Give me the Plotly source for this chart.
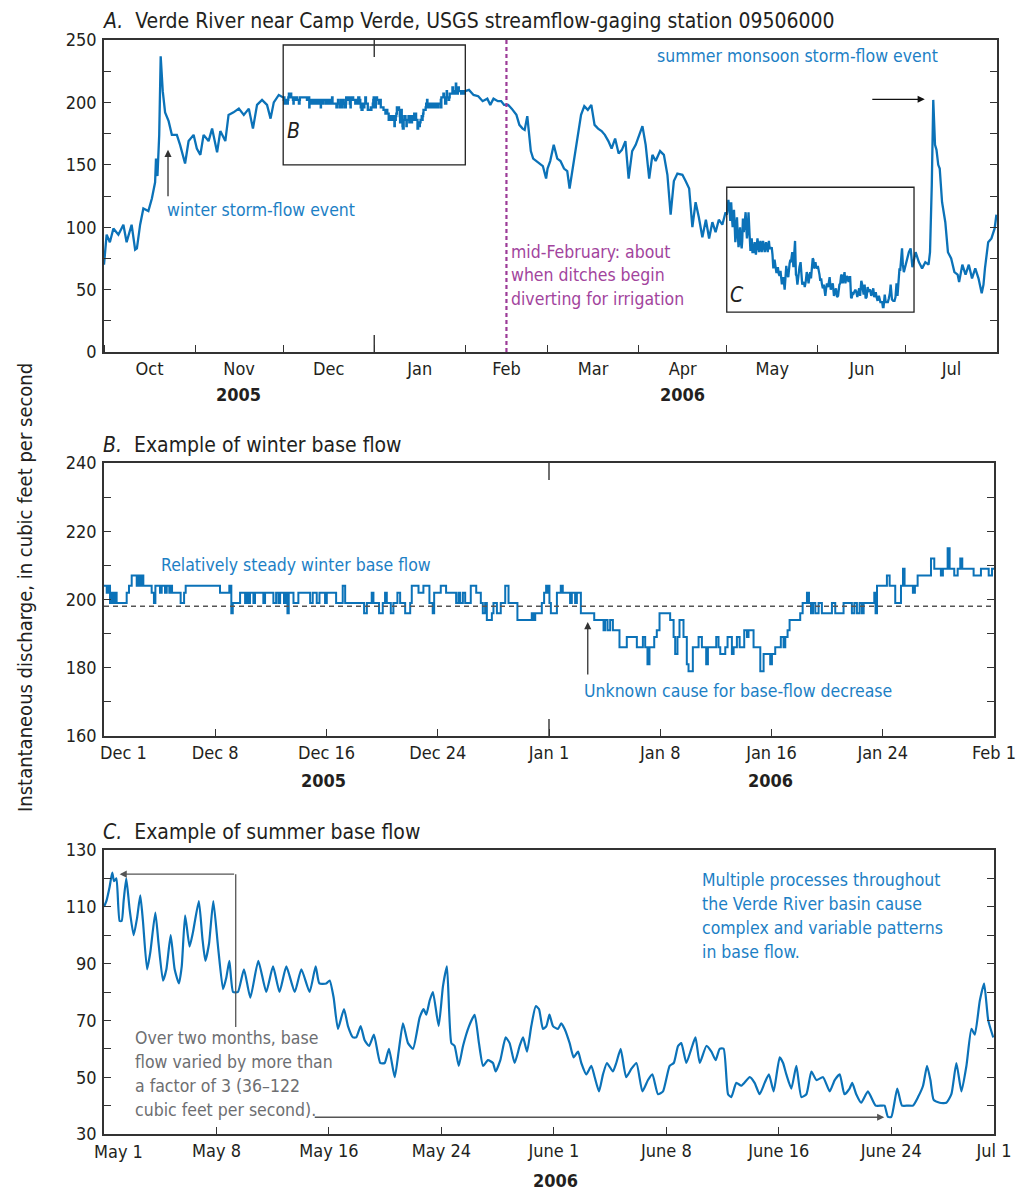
import pandas as pd
import plotly.graph_objects as go

# ---------------- data ----------------
# Panel A, early segment: days after 2005-10-01, discharge (cfs)
early_day = [0, 0.9, 2.0, 3.2, 4.9, 6.6, 7.7, 9.4, 10.6, 11.2, 12.3, 13.4, 15.1, 16.3, 17.4, 17.7, 18.2,
             18.8, 19.3, 20.0, 20.8, 22.0, 23.1, 24.8, 25.9, 27.6, 28.8, 30.5, 31.6, 32.8, 33.9, 35.6,
             36.8, 38.5, 39.6, 41.3, 42.4, 44.1, 45.9, 47.6, 49.3, 50.7, 52.1, 53.8, 55.5, 56.7, 57.8, 59.5]
early_cfs = [70, 94, 88, 99, 94, 102, 88, 102, 82, 83, 102, 115, 113, 123, 136, 155, 141,
             174, 237, 209, 192, 185, 174, 174, 166, 151, 169, 174, 163, 158, 174, 169,
             179, 160, 177, 169, 190, 192, 195, 190, 195, 179, 198, 202, 198, 187, 200, 206]

# Panel B (winter base flow): step changes, days after 2005-12-01
winter_day = [0, 0.19, 0.30, 0.42, 0.53, 0.65, 0.77, 0.88, 1.58, 1.74, 1.93, 2.28, 2.39, 2.51, 2.62, 2.74,
              3.32, 3.48, 3.58, 3.90, 4.02, 4.25, 4.37, 4.55, 4.67, 4.74, 5.34, 5.58, 5.69, 8.08, 8.73,
              8.87, 8.97, 9.48, 9.83, 9.94, 10.06, 10.17, 10.41, 10.52, 11.1, 11.22, 11.8, 11.99, 12.15,
              12.27, 12.54, 12.68, 12.78, 12.87, 13.2, 13.54, 14.36, 14.54, 14.82, 15.01, 15.4, 15.52,
              16.17, 16.63, 16.8, 18.12, 18.31, 18.65, 18.77, 19.16, 19.42, 19.58, 19.7, 19.98, 20.16,
              20.44, 20.63, 20.98, 21.33, 21.44, 21.91, 22.25, 22.67, 22.9, 23.0, 23.46, 23.83, 24.53,
              24.69, 24.81, 25.0, 25.16, 25.55, 25.93, 26.25, 26.39, 26.55, 26.67, 27.02, 27.13, 27.37,
              27.64, 27.95, 28.18, 28.8, 29.8, 29.92, 30.04, 30.5, 30.66, 30.8, 30.9, 30.96, 31.03,
              31.13, 31.55, 31.82, 31.96, 32.47, 32.59, 32.82, 32.94, 33.22, 34.15, 34.8, 34.91, 35.08,
              35.26, 35.45, 35.91, 36.42, 37.12, 37.54, 37.7, 37.86, 38.0, 38.33, 38.51, 38.7, 39.44,
              39.68, 39.79, 39.95, 40.09, 40.37, 40.6, 40.72, 41.02, 41.42, 41.65, 41.95, 42.07, 42.65,
              42.81, 42.93, 43.28, 43.44, 43.74, 43.86, 44.09, 44.28, 44.6, 44.79, 44.9, 45.25, 45.72,
              45.95, 46.41, 46.53, 46.76, 47.15, 47.34, 47.46, 47.62, 47.76, 48.5, 48.67, 48.97, 49.11,
              49.25, 49.39, 49.55, 49.78, 50.01, 50.71, 50.94, 51.52, 52.1, 52.27, 52.45, 52.64, 52.8,
              52.92, 53.66, 53.75, 53.85, 54.54, 54.73, 55.12, 55.52, 55.66, 55.77, 56.35, 56.49, 56.68,
              57.61, 57.84, 58.3, 58.44, 58.77, 58.91, 59.23, 59.47, 59.65, 59.79, 60.58, 61.09, 61.63,
              61.86, 62.0]
winter_cfs = [204, 202, 204, 199, 202, 199, 202, 199, 202, 204, 207, 204, 207, 204, 207, 204,
              202, 199, 204, 202, 204, 202, 204, 202, 204, 202, 199, 202, 204, 202, 204,
              196, 199, 202, 199, 202, 199, 202, 199, 202, 199, 202, 199, 202, 199,
              202, 199, 202, 196, 202, 199, 202, 199, 202, 199, 202, 199, 202,
              199, 204, 199, 196, 199, 202, 199, 196, 199, 202, 199, 196, 199,
              202, 199, 196, 199, 204, 202, 204, 199, 196, 202, 204, 202, 199,
              202, 199, 202, 199, 204, 202, 199, 196, 199, 194, 196, 199, 196,
              199, 204, 199, 194, 196, 194, 196, 199, 202, 204, 202, 204, 199,
              196, 202, 204, 202, 199, 202, 199, 202, 196, 194, 191, 194, 191,
              194, 191, 186, 189, 186, 189, 186, 181, 186, 189, 191, 196, 194,
              189, 184, 189, 194, 189, 181, 179, 186, 189, 186, 181, 186, 189,
              186, 184, 186, 189, 184, 186, 189, 186, 191, 189, 191, 186, 179,
              184, 181, 184, 186, 189, 186, 189, 191, 194, 196, 199, 202, 199,
              196, 199, 196, 199, 196, 199, 196, 199, 196, 199, 196, 199, 196,
              199, 202, 196, 204, 207, 204, 199, 204, 209, 204, 202, 204, 207,
              212, 209, 207, 209, 215, 209, 207, 209, 212, 209, 207, 209, 207,
              209, 209]
winter_reference_cfs = 198

# Panel A, February-April: days after 2006-02-01
spring_day = [1.25, 2.8, 4.4, 5.9, 7.5, 8.5, 9.6, 11.1, 12.2, 13.2, 14.6, 15.8, 17.4, 18.4, 19.5, 20.2,
              21.1, 21.6, 22.3, 23.1, 24.2, 25.2, 26.4, 27.5, 28.0, 28.9, 30.1, 31.3, 32.4, 33.6, 34.7,
              35.5, 36.2, 37.1, 38.2, 39.4, 40.5, 41.7, 42.9, 44.0, 45.2, 46.4, 47.5, 48.7, 49.8, 51.0,
              52.2, 53.3, 54.5, 55.6, 56.8, 58.0, 60.3, 61.4, 62.6, 63.7, 64.8, 66.3, 67.6, 68.8, 69.9,
              71.0, 72.2, 73.9, 75.0, 76.2, 77.3, 78.4, 79.5, 80.7, 81.9, 83.0, 84.1, 85.2, 86.3, 87.5, 88.6]
spring_cfs = [210, 206, 205, 201, 203, 198, 203, 201, 201, 198, 198, 195, 190, 182, 179, 178,
              189, 177, 161, 155, 153, 151, 149, 139, 147, 153, 166, 155, 153, 147, 145,
              131, 142, 155, 174, 190, 197, 194, 198, 182, 179, 177, 174, 169, 163, 171,
              159, 162, 169, 139, 161, 166, 181, 166, 139, 158, 153, 161, 158, 142, 110,
              137, 143, 142, 137, 131, 100, 120, 108, 92, 106, 91, 104, 96, 106, 102, 112]

# Panel C (summer base flow): days after 2006-05-01
summer_day = [0, 0.16, 0.38, 0.56, 0.68, 0.84, 1.06, 1.2, 1.33, 1.51, 1.74, 2.01, 2.24, 2.46, 2.64, 2.92,
              3.14, 3.48, 3.7, 4.0, 4.23, 4.52, 4.79, 5.08, 5.27, 5.5, 5.8, 6.03, 6.43, 6.67, 6.87, 7.12,
              7.41, 7.73, 8.07, 8.29, 8.5, 8.75, 9.08, 9.49, 9.92, 10.46, 11.0, 11.46, 11.9, 12.36, 12.93,
              13.38, 13.94, 14.35, 14.6, 15.07, 15.3, 15.57, 15.86, 16.27, 16.54, 16.88, 17.1, 17.4, 17.67,
              17.97, 18.3, 18.73, 19.03, 19.32, 19.71, 20.0, 20.27, 20.61, 20.95, 21.4, 21.67, 21.85, 22.08,
              22.3, 22.69, 22.98, 23.25, 23.55, 23.77, 24.05, 24.34, 24.75, 25.13, 25.42, 25.7, 26.03,
              26.37, 26.55, 26.87, 27.23, 27.5, 27.84, 28.18, 28.41, 28.68, 28.97, 29.27, 29.49, 29.76,
              29.99, 30.2, 30.44, 30.78, 31.0, 31.23, 31.57, 31.84, 32.14, 32.36, 32.7, 33.04, 33.27,
              33.56, 33.83, 34.1, 34.5, 34.73, 35.03, 35.4, 35.76, 36.1, 36.5, 36.88, 37.18, 37.56, 37.9,
              38.35, 38.63, 38.92, 39.14, 39.48, 39.82, 40.1, 40.39, 40.84, 41.18, 41.47, 41.74, 42.01,
              42.31, 42.53, 42.87, 43.21, 43.78, 44.11, 44.45, 44.79, 45.08, 45.4, 45.81, 46.04, 46.26,
              46.6, 46.94, 47.28, 47.62, 47.96, 48.3, 48.75, 49.2, 49.54, 49.88, 50.2, 50.55, 50.73, 51.0,
              51.34, 51.79, 52.31, 52.7, 52.92, 53.15, 53.38, 53.78, 54.1, 54.5, 54.85, 55.19, 55.53,
              55.8, 56.03, 56.25, 56.66, 57.11, 57.45, 57.79, 58.13, 58.47, 58.81, 59.04, 59.38, 59.67,
              59.95, 60.29]
summer_cfs = [110, 112, 117, 122, 119, 120, 105, 105, 112, 120, 109, 100, 106, 114, 105, 88,
              94, 108, 97, 84, 88, 100, 88, 83, 89, 107, 96, 101, 112, 99, 91, 97,
              112, 96, 81, 85, 91, 80, 80, 88, 78, 91, 80, 89, 80, 89, 80,
              88, 80, 89, 83, 83, 84, 78, 67, 74, 68, 64, 64, 68, 63,
              61, 65, 55, 55, 60, 50, 60, 69, 62, 60, 71, 74, 72, 77,
              80, 68, 82, 89, 62, 61, 54, 61, 68, 72, 62, 54, 56,
              55, 52, 56, 64, 62, 55, 61, 64, 59, 68, 75, 74, 67,
              68, 72, 68, 67, 69, 67, 62, 57, 59, 55, 51, 54, 50,
              45, 51, 55, 52, 55, 60, 50, 53, 55, 45, 49, 51, 44, 45,
              54, 55, 61, 62, 55, 60, 64, 55, 61, 59, 56, 60, 60,
              44, 43, 48, 47, 50, 48, 44, 48, 51, 45, 57, 55, 51,
              46, 54, 43, 44, 52, 49, 50, 45, 49, 51, 44, 46, 48, 44,
              41, 45, 40, 40, 40, 36, 36, 46, 40, 40, 40, 43, 47,
              54, 49, 42, 41, 41, 44, 55, 45, 54, 67, 65, 77, 83,
              70, 64]

# Panel A, July: days after 2006-07-01
july_day = [1.0, 1.6, 2.2, 3.3, 4.4, 5.5, 6.6, 7.7, 8.2, 8.8, 9.3, 9.9, 10.4, 11.0, 11.5, 12.3, 13.4,
            14.3, 15.4, 16.5, 17.6, 18.1, 19.2, 20.3, 21.4, 22.5, 23.6, 24.7, 25.8, 26.4, 26.9, 28.0,
            29.1, 30.2, 30.8]
july_cfs = [80, 83, 68, 80, 72, 67, 72, 70, 80, 134, 202, 166, 162, 150, 147, 120, 104,
            80, 75, 64, 62, 56, 70, 62, 70, 59, 67, 59, 47, 54, 67, 88,
            91, 99, 110]

# tick labels
b_tick_text = ["Dec 1", "Dec 8", "Dec 16", "Dec 24", "Jan 1", "Jan 8", "Jan 16", "Jan 24", "Feb 1"]
c_tick_text = ["May 1", "May 8", "May 16", "May 24", "June 1", "June 8", "June 16", "June 24", "Jul 1"]


def to_dates(origin, days):
    t0 = pd.Timestamp(origin)
    return [t0 + pd.Timedelta(days=d) for d in days]


early_x = to_dates("2005-10-01", early_day)
winter_x = to_dates("2005-12-01", winter_day)
spring_x = to_dates("2006-02-01", spring_day)
summer_x = to_dates("2006-05-01", summer_day)
july_x = to_dates("2006-07-01", july_day)

# winter steps expanded so the full record can be drawn as one line
step_x, step_y = [], []
for i, (xv, yv) in enumerate(zip(winter_x, winter_cfs)):
    if i > 0:
        step_x.append(xv)
        step_y.append(winter_cfs[i - 1])
    step_x.append(xv)
    step_y.append(yv)

full_x = early_x + step_x + spring_x + summer_x + july_x
full_y = early_cfs + step_y + spring_cfs + summer_cfs + july_cfs

# ---------------- styling ----------------
PAGE_OFF = 8                     # browser body margin around the figure
W, H = 1033 - PAGE_OFF, 1193 - PAGE_OFF
FONT = "'DejaVu Sans Condensed', 'Liberation Sans Narrow', Roboto, sans-serif"
TXT = "#231f20"
AX = "#333333"
LINE = "#0b72b8"
BLUE_TXT = "#1c80c5"
PURPLE = "#a2449d"
GRAY_TXT = "#6d6e71"
TICK_SIZE = 18
NOTE_SIZE = 17.5


def px(x):
    return (x - PAGE_OFF) / W


def py(y):
    return 1 - (y - PAGE_OFF) / H


fig = go.Figure()
fig.add_trace(go.Scatter(x=full_x, y=full_y, mode="lines", line=dict(color=LINE, width=2.3),
                         xaxis="x", yaxis="y", showlegend=False))
fig.add_trace(go.Scatter(x=winter_x, y=winter_cfs, mode="lines", line=dict(color=LINE, width=2, shape="hv"),
                         xaxis="x2", yaxis="y2", showlegend=False))
fig.add_trace(go.Scatter(x=summer_x, y=summer_cfs, mode="lines",
                         line=dict(color=LINE, width=2.2, shape="spline", smoothing=0.5),
                         xaxis="x3", yaxis="y3", showlegend=False))

common = dict(showline=True, linecolor=AX, linewidth=1.5, ticks="inside", ticklen=7, tickwidth=1.2,
              tickcolor=AX, showgrid=False, zeroline=False, automargin=False,
              tickfont=dict(family=FONT, size=TICK_SIZE, color=TXT))
ycommon = dict(common, ticklabelstandoff=2)

b_start = pd.Timestamp("2005-12-01")
b_tickvals = [b_start + pd.Timedelta(days=7.75 * k) for k in range(9)]
c_start = pd.Timestamp("2006-05-01")
c_end = c_start + pd.Timedelta(days=60.34)
c_tickvals = [c_start + pd.Timedelta(days=7.625 * k) for k in range(8)] + [c_end]
# first labels are nudged right of their tick (as in the reference) and drawn as annotations
b_axis_text = [""] + b_tick_text[1:]
c_axis_text = [""] + c_tick_text[1:]

fig.update_layout(
    width=W, height=H, template="none", paper_bgcolor="white", plot_bgcolor="white",
    margin=dict(l=0, r=0, t=0, b=0), showlegend=False,
    font=dict(family=FONT, color=TXT, size=TICK_SIZE),
    xaxis=dict(common, type="date", range=["2005-10-01", "2006-08-01"], dtick="M1", tick0="2005-10-01",
               tickformat="%b", ticklabelmode="period", mirror=True,
               domain=[px(104), px(997)], anchor="y"),
    yaxis=dict(ycommon, range=[0, 250], dtick=50, tick0=0, mirror="ticks",
               minor=dict(dtick=25, tick0=0, ticks="inside", ticklen=7, tickcolor=AX, showgrid=False),
               domain=[py(352), py(40)], anchor="x"),
    xaxis2=dict(common, type="date", range=[b_start, pd.Timestamp("2006-02-01")], tickmode="array",
                tickvals=b_tickvals, ticktext=b_axis_text, mirror=True,
                domain=[px(104), px(994)], anchor="y2"),
    yaxis2=dict(ycommon, range=[160, 240], dtick=20, tick0=160, mirror="ticks",
                minor=dict(dtick=10, tick0=160, ticks="inside", ticklen=7, tickcolor=AX, showgrid=False),
                domain=[py(736), py(463)], anchor="x2"),
    xaxis3=dict(common, type="date", range=[c_start, c_end], tickmode="array",
                tickvals=c_tickvals, ticktext=c_axis_text, mirror=True,
                domain=[px(104), px(994)], anchor="y3"),
    yaxis3=dict(ycommon, range=[30, 130], dtick=20, tick0=30, mirror="ticks",
                minor=dict(dtick=10, tick0=30, ticks="inside", ticklen=7, tickcolor=AX, showgrid=False),
                domain=[py(1134), py(850)], anchor="x3"),
)

shapes = []
# boxes B and C in panel A
shapes.append(dict(type="rect", xref="x", yref="y", x0="2005-12-01", x1="2006-02-01", y0=150, y1=246,
                   line=dict(color="#222", width=1.3)))
shapes.append(dict(type="rect", xref="x", yref="y", x0="2006-05-01", x1="2006-07-03 18:00", y0=32, y1=132,
                   line=dict(color="#222", width=1.3)))
# mid-February line
shapes.append(dict(type="line", xref="x", yref="y domain", x0="2006-02-15", x1="2006-02-15", y0=0, y1=1,
                   line=dict(color="#9c3b98", width=2.2, dash="4px,3px")))
# year boundary ticks
shapes.append(dict(type="line", xref="x", yref="y domain", x0="2006-01-01", x1="2006-01-01", y0=0,
                   y1=17 / 312, line=dict(color=AX, width=1.4)))
shapes.append(dict(type="line", xref="x", yref="y domain", x0="2006-01-01", x1="2006-01-01",
                   y0=1 - 17 / 312, y1=1, line=dict(color=AX, width=1.4)))
shapes.append(dict(type="line", xref="x2", yref="y2 domain", x0="2006-01-01", x1="2006-01-01", y0=0,
                   y1=17 / 273, line=dict(color=AX, width=1.4)))
shapes.append(dict(type="line", xref="x2", yref="y2 domain", x0="2006-01-01", x1="2006-01-01",
                   y0=1 - 17 / 273, y1=1, line=dict(color=AX, width=1.4)))
# reference level in panel B
shapes.append(dict(type="line", xref="x2 domain", yref="y2", x0=0, x1=1, y0=winter_reference_cfs,
                   y1=winter_reference_cfs, line=dict(color="#555", width=1.6, dash="5px,4px")))
# leader line in panel C
lead_x = c_start + pd.Timedelta(days=8.93)
shapes.append(dict(type="line", xref="x3", yref="y3", x0=lead_x, x1=lead_x, y0=67.7, y1=121.5,
                   line=dict(color="#555", width=1.3)))
fig.update_layout(shapes=shapes)

ann = []


def text(x, y, s, color=TXT, size=NOTE_SIZE, anchor="left"):
    ann.append(dict(xref="paper", yref="paper", x=px(x), y=py(y), text=s, showarrow=False,
                    xanchor=anchor, yanchor="middle", font=dict(family=FONT, size=size, color=color)))


# titles
text(101, 21, "<i>A.</i>  Verde River near Camp Verde, USGS streamflow-gaging station 09506000", size=21)
text(101, 445, "<i>B.</i>  Example of winter base flow", size=21)
text(101, 832, "<i>C.</i>  Example of summer base flow", size=21)
# first tick labels of panels B and C
text(123, 752, b_tick_text[0], size=TICK_SIZE, anchor="center")
text(118, 1151, c_tick_text[0], size=TICK_SIZE, anchor="center")
# year labels
text(238, 395, "<b>2005</b>", size=18, anchor="center")
text(682, 395, "<b>2006</b>", size=18, anchor="center")
text(323, 780, "<b>2005</b>", size=18, anchor="center")
text(770, 780, "<b>2006</b>", size=18, anchor="center")
text(555, 1180, "<b>2006</b>", size=18, anchor="center")
# box labels
text(293, 131, "<i>B</i>", size=21, anchor="center")
text(737, 295, "<i>C</i>", size=21, anchor="center")
# panel A notes
text(165, 210, "winter storm-flow event", color=BLUE_TXT)
text(655, 56, "summer monsoon storm-flow event", color=BLUE_TXT)
for i, s in enumerate(["mid-February: about", "when ditches begin", "diverting for irrigation"]):
    text(509, 252 + 23.3 * i, s, color=PURPLE)
# panel B notes
text(159, 565, "Relatively steady winter base flow", color=BLUE_TXT)
text(582, 691, "Unknown cause for base-flow decrease", color=BLUE_TXT)
# panel C notes
for i, s in enumerate(["Over two months, base", "flow varied by more than",
                       "a factor of 3 (36\u2013122", "cubic feet per second)."]):
    text(133, 1038 + 23.9 * i, s, color=GRAY_TXT)
for i, s in enumerate(["Multiple processes throughout", "the Verde River basin cause",
                       "complex and variable patterns", "in base flow."]):
    text(700, 880 + 23.9 * i, s, color=BLUE_TXT)
# y-axis title
ann.append(dict(xref="paper", yref="paper", x=px(25), y=py(588),
                text="Instantaneous discharge, in cubic feet per second",
                textangle=-90, showarrow=False, xanchor="center", yanchor="middle",
                font=dict(family=FONT, size=20, color=TXT)))


def arrow(xref, yref, x, y, ax, ay, color="#333"):
    ann.append(dict(xref=xref, yref=yref, x=x, y=y, ax=ax, ay=ay, text="", showarrow=True,
                    arrowhead=2, arrowsize=1.1, arrowwidth=1.3, arrowcolor=color))


arrow("x", "y", pd.Timestamp("2005-10-22 19:00"), 162, 0, 48)
arrow("x", "y", pd.Timestamp("2006-07-07 10:00"), 202.5, -54, 0, color="#111")
arrow("x2", "y2", b_start + pd.Timedelta(days=33.7), 193.4, 0, 54)
arrow("x3", "y3", c_start + pd.Timedelta(days=1.06), 121.5, 116, 0, color="#555")
arrow("x3", "y3", c_start + pd.Timedelta(days=52.9), 35.9, -571, 0, color="#555")

fig.update_layout(annotations=ann)
fig.write_html("out.html")
